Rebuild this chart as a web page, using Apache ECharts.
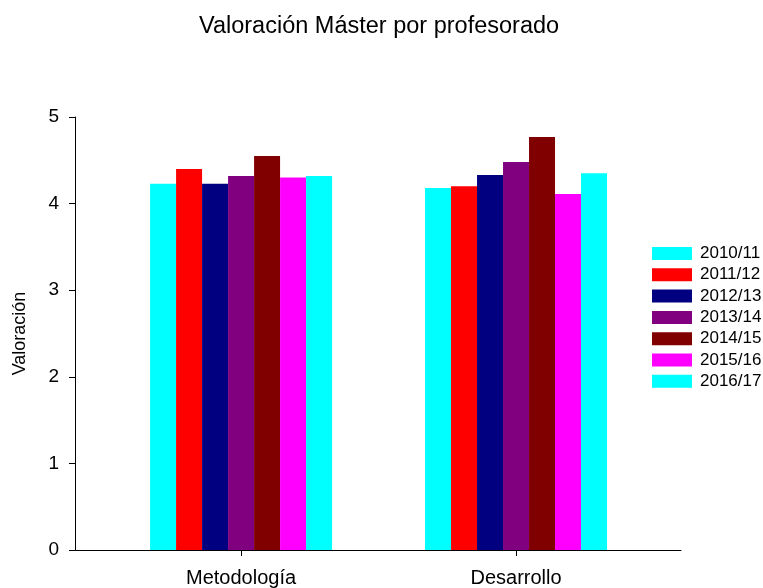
<!DOCTYPE html>
<html>
<head>
<meta charset="utf-8">
<script src="https://cdn.jsdelivr.net/npm/echarts@6/dist/echarts.min.js"></script>
<style>
  html, body { margin: 0; padding: 0; background: #fff; }
  #chart { width: 763px; height: 588px; }
</style>
</head>
<body>
<div id="chart"></div>
<script>
var categories = ['Metodología', 'Desarrollo'];
var years = ['2010/11', '2011/12', '2012/13', '2013/14', '2014/15', '2015/16', '2016/17'];
var colors = ['#00ffff', '#ff0000', '#000080', '#800080', '#800000', '#ff00ff', '#00ffff'];
// one row per course year: [Metodología, Desarrollo]
var v2010 = [4.23, 4.18];
var v2011 = [4.40, 4.20];
var v2012 = [4.23, 4.33];
var v2013 = [4.32, 4.48];
var v2014 = [4.55, 4.77];
var v2015 = [4.30, 4.11];
var v2016 = [4.32, 4.35];
var values = [v2010, v2011, v2012, v2013, v2014, v2015, v2016];
var yTicks = [0, 1, 2, 3, 4, 5];

var font = 'Liberation Sans, Arial, sans-serif';

// categories sit at x = 1, 2 on a value axis so the axis lines can run past the groups
var series = years.map(function(y, i) {
  return {
    name: y,
    type: 'bar',
    barWidth: 26,
    barGap: '0%',
    itemStyle: { color: colors[i] },
    data: values[i].map(function(v, j) { return [j + 1, v]; })
  };
});

var chart = echarts.init(document.getElementById('chart'));
chart.setOption({
  animation: false,
  title: {
    text: 'Valoración Máster por profesorado',
    left: 194,
    top: 10,
    textStyle: { fontFamily: font, fontSize: 23.5, fontWeight: 'normal', color: '#000' }
  },
  legend: {
    orient: 'vertical',
    left: 647,
    top: 240,
    itemWidth: 40,
    itemHeight: 13,
    itemGap: 4.3,
    icon: 'rect',
    data: years,
    textStyle: { fontFamily: font, fontSize: 17, color: '#000', padding: [0, 0, 0, 3] }
  },
  grid: { left: 75, right: 82, top: 117, bottom: 38 },
  xAxis: {
    type: 'value',
    min: 0.396,
    max: 2.6,
    splitLine: { show: false },
    axisLine: { show: true, lineStyle: { color: '#000', width: 1 } },
    axisTick: { show: true, customValues: [1, 2], length: 6, lineStyle: { color: '#000' } },
    axisLabel: {
      customValues: [1, 2],
      margin: 18,
      fontFamily: font,
      fontSize: 20,
      color: '#000',
      formatter: function(v) { return categories[Math.round(v) - 1]; }
    }
  },
  yAxis: {
    type: 'value',
    min: yTicks[0],
    max: yTicks[yTicks.length - 1],
    interval: 1,
    name: 'Valoración',
    nameLocation: 'middle',
    nameGap: 46,
    nameTextStyle: { fontFamily: font, fontSize: 18, color: '#000' },
    splitLine: { show: false },
    axisLine: { show: true, lineStyle: { color: '#000', width: 1 } },
    axisTick: { show: true, length: 6, lineStyle: { color: '#000' } },
    axisLabel: { margin: 16, fontFamily: font, fontSize: 19, color: '#000' }
  },
  series: series
});
</script>
</body>
</html>
